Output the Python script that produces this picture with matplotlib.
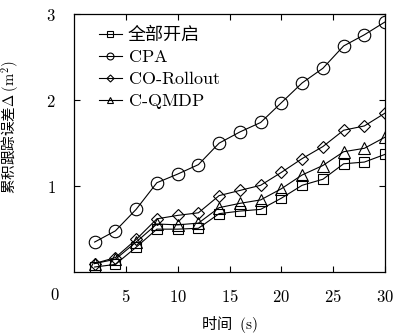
import numpy as np
import matplotlib
matplotlib.use("Agg")
import matplotlib.pyplot as plt

plt.rcParams['font.family'] = ['Noto Sans CJK SC', 'DejaVu Serif']
plt.rcParams['mathtext.fontset'] = 'cm'

# data
t = [2, 4, 6, 8, 10, 12, 14, 16, 18, 20, 22, 24, 26, 28, 30]
all_on = [0.06, 0.09, 0.29, 0.50, 0.50, 0.51, 0.68, 0.71, 0.73, 0.86, 1.01, 1.08, 1.26, 1.28, 1.37]
cpa = [0.35, 0.48, 0.73, 1.04, 1.14, 1.25, 1.50, 1.63, 1.74, 1.97, 2.20, 2.37, 2.63, 2.76, 2.91]
co_rollout = [0.10, 0.17, 0.38, 0.62, 0.66, 0.69, 0.89, 0.95, 1.01, 1.16, 1.32, 1.46, 1.65, 1.70, 1.85]
c_qmdp = [0.10, 0.15, 0.35, 0.56, 0.55, 0.57, 0.75, 0.80, 0.84, 0.97, 1.13, 1.24, 1.40, 1.44, 1.57]

series = [
    (all_on, 's', 7, '全部开启'),
    (cpa, 'o', 9, r'$\mathrm{CPA}$'),
    (co_rollout, 'D', 6.5, r'$\mathrm{CO\text{-}Rollout}$'),
    (c_qmdp, '^', 8.5, r'$\mathrm{C\text{-}QMDP}$'),
]

xticks = [5, 10, 15, 20, 25, 30]
yticks = [1, 2, 3]

fig = plt.figure(figsize=(3.93, 3.36), dpi=100)
ax = fig.add_axes([0.188, 0.19, 0.792, 0.768])

for y, m, ms, lab in series:
    ax.plot(t, y, color='black', lw=0.8, marker=m, ms=ms, mfc='none',
            mec='black', mew=0.8, label=lab)

ax.set_xlim(0, 30)
ax.set_ylim(0, 3)
ax.set_xticks(xticks)
ax.set_xticklabels(['$%d$' % v for v in xticks], fontsize=12)
ax.set_yticks(yticks)
ax.set_yticklabels(['$%d$' % v for v in yticks], fontsize=12)
ax.tick_params(direction='in', top=True, right=True, length=4, width=0.8)
ax.tick_params(axis='x', pad=12)
ax.tick_params(axis='y', pad=13)
for s in ax.spines.values():
    s.set_linewidth(0.9)

# shared zero at the corner
ax.text(-0.06, -0.09, '$0$', transform=ax.transAxes, fontsize=12,
        ha='center', va='center')

ax.set_xlabel('时间 $\\ (\\mathrm{s})$', fontsize=11, labelpad=6)
ax.set_ylabel('累积跟踪误差$\\Delta$ $(\\mathrm{m}^2)$', fontsize=10.5)
ax.yaxis.set_label_coords(-0.17, 0.56)

leg = ax.legend(loc='upper left', frameon=False, fontsize=13, markerscale=0.55,
                handlelength=1.3, handletextpad=0.3, labelspacing=0.22,
                borderaxespad=0.2, bbox_to_anchor=(0.045, 0.995))

fig.savefig('out.png', dpi=100)
